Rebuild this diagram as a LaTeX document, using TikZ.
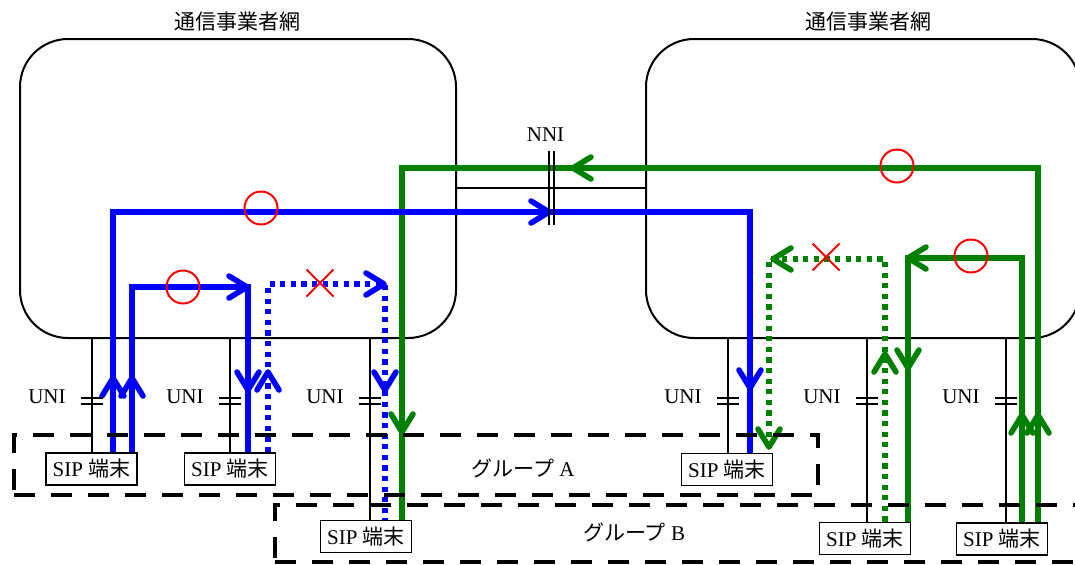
\documentclass[tikz,border=0pt]{standalone}
\usepackage{fontspec}
\setmainfont{Liberation Serif}
\newfontfamily\cjk{Noto Sans CJK JP}
\usetikzlibrary{shapes.misc}
\definecolor{grn}{RGB}{0,128,0}
\pgfdeclarelayer{back}
\pgfdeclarelayer{routes}
\pgfsetlayers{back,routes,main}
\begin{document}
\begin{tikzpicture}[x=0.5pt,y=-0.5pt,
  font=\fontsize{10.5}{12}\selectfont,
  netbox/.style={draw, line width=1pt, rounded corners=24pt, inner sep=0pt},
  thinline/.style={line width=0.75pt},
  sipbox/.style={draw, line width=0.9pt, fill=white, minimum width=45.5pt, minimum height=16pt, inner sep=0pt},
  bluer/.style={draw=blue, line width=2.8pt},
  greenr/.style={draw=grn, line width=2.8pt},
  dotr/.style={dash pattern=on 2.6pt off 2.7pt},
  grp/.style={draw, line width=2.2pt, dash pattern=on 10.5pt off 8pt, inner sep=0pt},
  okmark/.style={draw=red, line width=1pt, circle, minimum size=16.5pt, inner sep=0pt},
  ngmark/.style={draw=red, line width=1pt, cross out, minimum size=12.5pt, inner sep=0pt},
  lbl/.style={inner sep=0pt},
  chev/.pic={\draw[line width=2.8pt, line cap=round, line join=round] (-18,-11) -- (0,0) -- (-18,11);}
]
\useasboundingbox (0,0) rectangle (1075,564);
\clip (0,0) rectangle (1075,564);

% SIP terminals
\node[sipbox] (t1) at (91.5,469) {SIP {\cjk 端末}};
\node[sipbox] (t2) at (230,469) {SIP {\cjk 端末}};
\node[sipbox] (t3) at (366,536.5) {SIP {\cjk 端末}};
\node[sipbox] (t4) at (727,469.5) {SIP {\cjk 端末}};
\node[sipbox] (t5) at (865,538.5) {SIP {\cjk 端末}};
\node[sipbox] (t6) at (1002,539) {SIP {\cjk 端末}};

% groups
\node[grp, minimum width=402pt, minimum height=30pt] (gA) at (416,465) {};
\node[grp, minimum width=412.5pt, minimum height=28.5pt] (gB) at (687.5,533.5) {};
\node[lbl] (gAl) at (523,468) {{\cjk グループ} A};
\node[lbl] (gBl) at (634,532) {{\cjk グループ} B};

% titles
\node[lbl] (tl) at (237,22) {\cjk 通信事業者網};
\node[lbl] (tr) at (868,22) {\cjk 通信事業者網};
\node[lbl] (nni) at (545.5,135) {NNI};

% NNI bars
\coordinate (n1) at (549,151); \coordinate (n2) at (554,151);
\draw[thinline] (n1) -- ++(0,74) (n2) -- ++(0,74);

% UNI bars and labels
\foreach \x/\n in {92/1,230/2,370/3,728/4,867/5,1006/6}{
  \draw[thinline] (\x-11,398) -- (\x+11,398) (\x-11,404) -- (\x+11,404);
  \node[lbl, anchor=east] (uni\n) at (\x-26,397) {UNI};
}

\begin{pgfonlayer}{back}
\node[netbox, minimum width=218pt, minimum height=149.5pt] (L) at (238,188.5) {};
\node[netbox, minimum width=217pt, minimum height=149.5pt] (R) at (863,188.5) {};
\draw[thinline] (L.east |- 0,188) -- (R.west |- 0,188);
\foreach \x/\n in {92/1,230/2,370/3,728/4,867/5,1006/6}{
  \coordinate (u\n) at (\x,338);
}
\draw[thinline] (u1) -- (u1 |- t1.north);
\draw[thinline] (u2) -- (u2 |- t2.north);
\draw[thinline] (u3) -- (u3 |- t3.north);
\draw[thinline] (u4) -- (u4 |- t4.north);
\draw[thinline] (u5) -- (u5 |- t5.north);
\draw[thinline] (u6) -- (u6 |- t6.north);
\end{pgfonlayer}

\begin{pgfonlayer}{routes}
% green routes
\coordinate (g1a) at (1038,168); \coordinate (g1b) at (402,168);
\draw[greenr] (t6.north -| g1a) -- (g1a) -- (g1b) -- (t3.north -| g1b);
\coordinate (g2a) at (1022,258); \coordinate (g2b) at (908,258);
\draw[greenr] (t6.north -| g2a) -- (g2a) -- (g2b) -- (t5.north -| g2b);
\coordinate (g3a) at (885,259); \coordinate (g3b) at (769,259); \coordinate (g3e) at (769,447);
\draw[greenr, dotr] (t5.north -| g3a) -- (g3a) -- (g3b) -- (g3e);
% blue routes
\coordinate (b1a) at (113,212); \coordinate (b1b) at (750,212);
\draw[bluer] (t1.north -| b1a) -- (b1a) -- (b1b) -- (t4.north -| b1b);
\coordinate (b2a) at (132,287); \coordinate (b2b) at (248,287);
\draw[bluer] (t1.north -| b2a) -- (b2a) -- (b2b) -- (t2.north -| b2b);
\coordinate (b3a) at (268,284); \coordinate (b3b) at (385,284);
\draw[bluer, dotr] (t2.north -| b3a) -- (b3a) -- (b3b) -- (t3.north -| b3b);

% arrow chevrons
\pic[blue, rotate=90] at (113,378) {chev};
\pic[blue, rotate=90] at (132,378) {chev};
\pic[blue] at (549,212) {chev};
\pic[blue, rotate=-90] at (750,388) {chev};
\pic[blue] at (247,287) {chev};
\pic[blue, rotate=-90] at (248,390) {chev};
\pic[blue, rotate=90] at (268,372) {chev};
\pic[blue] at (384,284) {chev};
\pic[blue, rotate=-90] at (385,390) {chev};
\pic[grn, rotate=90] at (1038,415) {chev};
\pic[grn, rotate=180] at (573,168) {chev};
\pic[grn, rotate=-90] at (402,432) {chev};
\pic[grn, rotate=180] at (908,258) {chev};
\pic[grn, rotate=-90] at (908,368) {chev};
\pic[grn, rotate=90] at (1022,415) {chev};
\pic[grn, rotate=180] at (773,259) {chev};
\pic[grn, rotate=90] at (885,354) {chev};
\pic[grn, rotate=-90] at (769,447) {chev};

% marks
\node[okmark] (o1) at (261,208) {};
\node[okmark] (o2) at (183,287) {};
\node[okmark] (o3) at (897,166) {};
\node[okmark] (o4) at (971,256) {};
\node[ngmark] (x1) at (320,283) {};
\node[ngmark] (x2) at (826,257) {};
\end{pgfonlayer}
\end{tikzpicture}
\end{document}
